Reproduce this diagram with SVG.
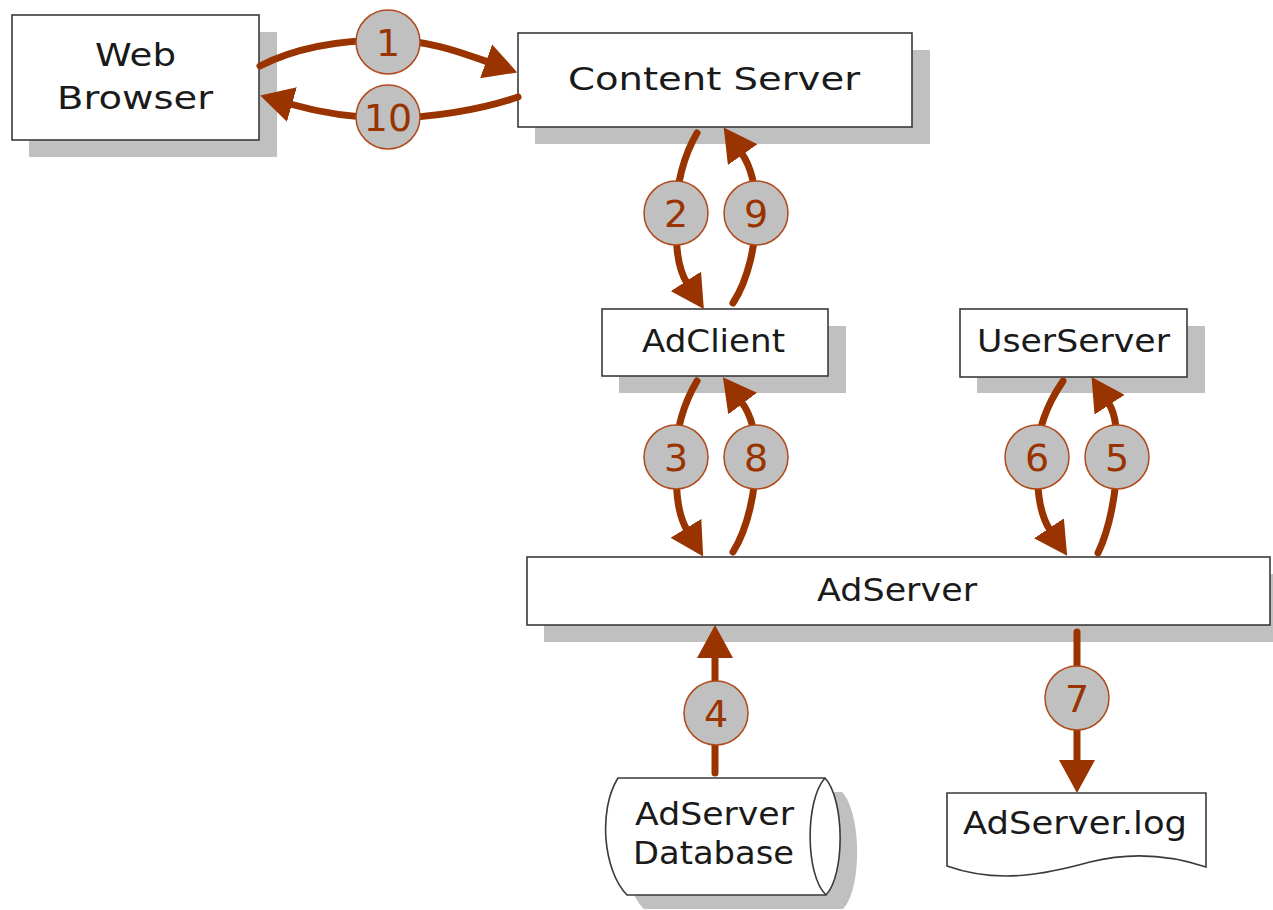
<svg xmlns="http://www.w3.org/2000/svg" width="1273" height="910" viewBox="0 0 1273 910">
<style>
.box{fill:#fff;stroke:#3a3a3a;stroke-width:1.6}
.shadow{fill:#c0c0c0;stroke:none}
.lbl{font-family:"DejaVu Sans","Liberation Sans",sans-serif;font-size:32px;fill:#1a1a1a;text-anchor:start}
.arrow{fill:none;stroke:#993300;stroke-width:7;stroke-linecap:round}
.badge{fill:#c0c0c0;stroke:#b04a1a;stroke-width:1.5}
.num{font-family:"DejaVu Sans","Liberation Sans",sans-serif;font-size:38px;fill:#993300;text-anchor:middle}
</style>
<defs>
<marker id="ah" markerUnits="userSpaceOnUse" markerWidth="34" markerHeight="36" refX="2" refY="18" orient="auto">
<path d="M0,0 L33,18 L0,36 Z" fill="#993300"/>
</marker>
</defs>
<rect width="1273" height="910" fill="#fff"/>

<g id="web-browser">
<rect class="shadow" x="29" y="32" width="248" height="125"/>
<rect class="box" x="12" y="15" width="247" height="125"/>
<text class="lbl" x="95" y="66" textLength="81" lengthAdjust="spacingAndGlyphs">Web</text>
<text class="lbl" x="57" y="109" textLength="156" lengthAdjust="spacingAndGlyphs">Browser</text>
</g>

<g id="content-server">
<rect class="shadow" x="535" y="50" width="395" height="94"/>
<rect class="box" x="518" y="33" width="394" height="94"/>
<text class="lbl" x="568" y="90" textLength="292" lengthAdjust="spacingAndGlyphs">Content Server</text>
</g>

<g id="adclient">
<rect class="shadow" x="619" y="326" width="227" height="67"/>
<rect class="box" x="602" y="309" width="226" height="67"/>
<text class="lbl" x="642" y="352" textLength="143" lengthAdjust="spacingAndGlyphs">AdClient</text>
</g>

<g id="userserver">
<rect class="shadow" x="977" y="326" width="228" height="67"/>
<rect class="box" x="960" y="309" width="227" height="68"/>
<text class="lbl" x="977" y="352" textLength="193" lengthAdjust="spacingAndGlyphs">UserServer</text>
</g>

<g id="adserver">
<rect class="shadow" x="544" y="574" width="745" height="68"/>
<rect class="box" x="527" y="557" width="743" height="68"/>
<text class="lbl" x="817" y="601" textLength="160" lengthAdjust="spacingAndGlyphs">AdServer</text>
</g>

<g id="adserver-database">
<path class="shadow" transform="translate(17,14)" d="M618,778 L825,778 C845,800 845,875 826,895 L627,895 C603,870 598,810 618,778 Z"/>
<path class="box" d="M618,778 L825,778 C845,800 845,875 826,895 L627,895 C603,870 598,810 618,778 Z"/>
<path class="box" d="M825,778 C805,800 805,875 826,895" fill="none"/>
<text class="lbl" x="635" y="825" textLength="159" lengthAdjust="spacingAndGlyphs">AdServer</text>
<text class="lbl" x="633" y="864" textLength="161" lengthAdjust="spacingAndGlyphs">Database</text>
</g>

<g id="adserver-log">
<path class="box" d="M947,793 L1206,793 L1206,867 C1170,855 1130,852 1090,862 C1050,873 1000,885 947,866 Z"/>
<text class="lbl" x="963" y="834" textLength="224" lengthAdjust="spacingAndGlyphs">AdServer.log</text>
</g>

<g id="connectors">
<path class="arrow" marker-end="url(#ah)" d="M260,66 C295,48 340,40 388,40 C428,40 460,52 488,62"/>
<path class="arrow" marker-end="url(#ah)" d="M518,97 C480,110 430,118 388,118 C350,118 318,112 290,104"/>
<path class="arrow" marker-end="url(#ah)" d="M697,133 C684,155 676,185 676,213 C676,240 676,266 687,283"/>
<path class="arrow" marker-end="url(#ah)" d="M733,303 C748,280 756,245 756,213 C756,190 752,168 741.5,153"/>
<path class="arrow" marker-end="url(#ah)" d="M697,381 C684,403 676,430 676,457 C676,484 676,512 687,530"/>
<path class="arrow" marker-end="url(#ah)" d="M733,552 C748,528 756,490 756,457 C756,436 752,416 741.5,402"/>
<path class="arrow" marker-end="url(#ah)" d="M1063,381 C1048,403 1037,430 1037,457 C1037,484 1038,512 1050,530"/>
<path class="arrow" marker-end="url(#ah)" d="M1098,553 C1110,528 1117,490 1117,457 C1117,436 1117,416 1108.5,403"/>
<path class="arrow" marker-end="url(#ah)" d="M715,773 L715,656"/>
<path class="arrow" marker-end="url(#ah)" d="M1077,632 L1077,762"/>
</g>

<g id="step-badges">
<circle class="badge" cx="388" cy="42" r="32"/><text class="num" x="388" y="56">1</text>
<circle class="badge" cx="388" cy="117" r="32"/><text class="num" x="388" y="131">10</text>
<circle class="badge" cx="676" cy="213" r="32"/><text class="num" x="676" y="227">2</text>
<circle class="badge" cx="756" cy="213" r="32"/><text class="num" x="756" y="227">9</text>
<circle class="badge" cx="676" cy="457" r="32"/><text class="num" x="676" y="471">3</text>
<circle class="badge" cx="756" cy="457" r="32"/><text class="num" x="756" y="471">8</text>
<circle class="badge" cx="1037" cy="457" r="32"/><text class="num" x="1037" y="471">6</text>
<circle class="badge" cx="1117" cy="457" r="32"/><text class="num" x="1117" y="471">5</text>
<circle class="badge" cx="716" cy="713" r="32"/><text class="num" x="716" y="727">4</text>
<circle class="badge" cx="1077" cy="698" r="32"/><text class="num" x="1077" y="712">7</text>
</g>
</svg>
